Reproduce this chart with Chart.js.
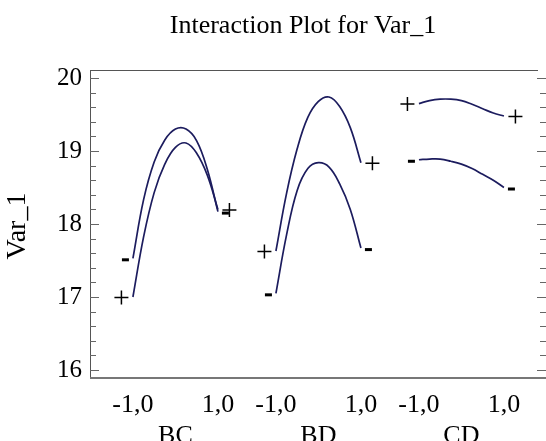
<!DOCTYPE html>
<html>
<head>
<meta charset="utf-8">
<title>Interaction Plot for Var_1</title>
<script src="https://cdn.jsdelivr.net/npm/chart.js@4/dist/chart.umd.min.js"></script>
<style>
  body { margin: 0; background: #fff; }
</style>
</head>
<body>
<canvas id="myChart" width="546" height="441"></canvas>
<script>
// data
const groupNames = ['BC', 'BD', 'CD'];
const levelLabels = ['-1,0', '1,0'];
const levels = [-1, 1];
const tValues = [-1, -0.75, -0.5, -0.25, 0, 0.25, 0.5, 0.75, 1];
const yTicks = [16, 17, 18, 19, 20];

const bcMinus = [17.53, 18.33, 18.85, 19.15, 19.30, 19.30, 19.14, 18.75, 18.17];
const bcPlus  = [17.00, 17.82, 18.43, 18.82, 19.05, 19.11, 18.97, 18.67, 18.20];
const bdPlus  = [17.63, 18.42, 19.03, 19.46, 19.68, 19.74, 19.61, 19.32, 18.84];
const bdMinus = [17.05, 17.85, 18.46, 18.76, 18.84, 18.78, 18.55, 18.20, 17.67];
const cdPlus  = [19.65, 19.69, 19.71, 19.71, 19.69, 19.64, 19.58, 19.52, 19.48];
const cdMinus = [18.88, 18.89, 18.89, 18.86, 18.82, 18.76, 18.68, 18.60, 18.50];

// where each factor pair sits along the x axis
const groupShift = [0, 3.365, 6.73];
const lineColor = '#1c1c5e';
const serif = "'Liberation Serif', 'Times New Roman', serif";

const series = [
  { g: 0, mark: '-', vals: bcMinus },
  { g: 0, mark: '+', vals: bcPlus },
  { g: 1, mark: '+', vals: bdPlus },
  { g: 1, mark: '-', vals: bdMinus },
  { g: 2, mark: '+', vals: cdPlus },
  { g: 2, mark: '-', vals: cdMinus }
];

const xTickValues = [];
groupShift.forEach(s => levels.forEach(l => xTickValues.push(l + s)));

const datasets = series.map(s => ({
  data: tValues.map((t, i) => ({ x: t + groupShift[s.g], y: s.vals[i] })),
  mark: s.mark,
  borderColor: lineColor,
  borderWidth: 1.7,
  pointRadius: 0,
  tension: 0.4,
  fill: false
}));

// frame, inward ticks, titles, +/- markers
const decorPlugin = {
  id: 'decor',
  afterDatasetsDraw(chart) {
    const ctx = chart.ctx;
    const xs = chart.scales.x, ys = chart.scales.y;
    ctx.save();
    chart.data.datasets.forEach(ds => {
      const first = ds.data[0], last = ds.data[ds.data.length - 1];
      const ends = [
        { px: xs.getPixelForValue(first.x), py: ys.getPixelForValue(first.y), side: -1 },
        { px: xs.getPixelForValue(last.x), py: ys.getPixelForValue(last.y), side: 1 }
      ];
      ends.forEach(e => {
        ctx.fillStyle = '#000';
        ctx.strokeStyle = '#000';
        if (ds.mark === '+') {
          const cx = e.px + e.side * 11.5, cy = e.py + 0.5;
          ctx.lineWidth = 1.5;
          ctx.beginPath();
          ctx.moveTo(cx - 7, cy); ctx.lineTo(cx + 7, cy);
          ctx.moveTo(cx, cy - 7); ctx.lineTo(cx, cy + 7);
          ctx.stroke();
        } else {
          const x0 = e.side < 0 ? e.px - 11 : e.px + 4;
          ctx.fillRect(x0, e.py, 7, 3);
        }
      });
    });
    ctx.restore();
  },
  afterDraw(chart) {
    const ctx = chart.ctx;
    const a = chart.chartArea;
    const xs = chart.scales.x, ys = chart.scales.y;
    ctx.save();

    // frame
    ctx.strokeStyle = '#555';
    ctx.lineWidth = 1;
    ctx.beginPath();
    ctx.moveTo(a.left + 0.5, a.top + 0.5);
    ctx.lineTo(a.left + 0.5, a.bottom);
    ctx.moveTo(a.left, a.top + 0.5);
    ctx.lineTo(a.right - 8, a.top + 0.5);
    ctx.stroke();
    ctx.strokeStyle = '#777';
    ctx.lineWidth = 2;
    ctx.beginPath();
    ctx.moveTo(a.left, a.bottom);
    ctx.lineTo(a.right, a.bottom);
    ctx.stroke();

    // inward ticks on left and right
    ctx.strokeStyle = '#666';
    ctx.lineWidth = 1;
    for (let k = 0; k <= 20; k++) {
      const v = 16 + k * 0.2;
      const py = Math.round(ys.getPixelForValue(v)) + 0.5;
      const len = k % 5 === 0 ? 9 : 6;
      ctx.beginPath();
      ctx.moveTo(a.left, py); ctx.lineTo(a.left + len, py);
      ctx.moveTo(a.right - len, py); ctx.lineTo(a.right, py);
      ctx.stroke();
    }

    // titles
    ctx.fillStyle = '#000';
    ctx.font = '26px ' + serif;
    ctx.textAlign = 'center';
    ctx.textBaseline = 'alphabetic';
    ctx.fillText('Interaction Plot for Var_1', 303, 33);

    groupNames.forEach((name, g) => {
      ctx.fillText(name, xs.getPixelForValue(groupShift[g]), 443);
    });

    ctx.font = '28px ' + serif;
    ctx.translate(25, 226);
    ctx.rotate(-Math.PI / 2);
    ctx.fillText('Var_1', 0, 0);
    ctx.restore();
  }
};

const ctx = document.getElementById('myChart').getContext('2d');
const myChart = new Chart(ctx, {
  type: 'line',
  data: { datasets: datasets },
  options: {
    responsive: false,
    animation: false,
    layout: { padding: { top: 70, right: 0, bottom: 0, left: 0 } },
    plugins: {
      legend: { display: false },
      title: { display: false },
      tooltip: { enabled: false }
    },
    scales: {
      x: {
        type: 'linear',
        min: -2.01,
        max: 8.72,
        afterBuildTicks: scale => { scale.ticks = xTickValues.map(v => ({ value: v })); },
        afterFit: scale => { scale.height = 63; },
        grid: { display: false, drawTicks: false },
        border: { display: false },
        ticks: {
          autoSkip: false,
          maxRotation: 0,
          padding: 12,
          color: '#000',
          font: { family: serif, size: 26 },
          callback: (value, index) => levelLabels[index % 2]
        }
      },
      y: {
        min: 15.89,
        max: 20.11,
        afterBuildTicks: scale => { scale.ticks = yTicks.map(v => ({ value: v })); },
        afterFit: scale => { scale.width = 90; },
        grid: { display: false, drawTicks: false },
        border: { display: false },
        ticks: {
          padding: 8,
          color: '#000',
          font: { family: serif, size: 25 }
        }
      }
    }
  },
  plugins: [decorPlugin]
});
</script>
</body>
</html>
